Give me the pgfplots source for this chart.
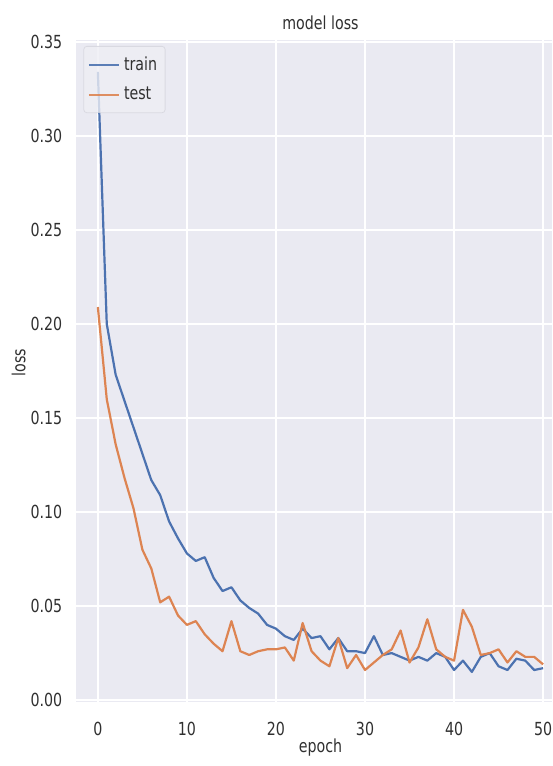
\documentclass[border=0pt]{standalone}
\usepackage{fontspec}
\setmainfont{DejaVu Sans}[FakeStretch=0.79]
\usepackage{pgfplots}
\pgfplotsset{compat=1.18}
\definecolor{bg}{HTML}{EAEAF2}
\definecolor{trainc}{HTML}{4C72B0}
\definecolor{testc}{HTML}{DD8452}
\definecolor{txt}{HTML}{303030}
\definecolor{legfill}{HTML}{EEEEF4}
\definecolor{legdraw}{HTML}{D8D8E0}

\pgfplotstableread{
epoch train test
0 0.334 0.209
1 0.200 0.160
2 0.173 0.136
3 0.159 0.118
4 0.145 0.102
5 0.131 0.080
6 0.117 0.070
7 0.109 0.052
8 0.095 0.055
9 0.086 0.045
10 0.078 0.040
11 0.074 0.042
12 0.076 0.035
13 0.065 0.030
14 0.058 0.026
15 0.060 0.042
16 0.053 0.026
17 0.049 0.024
18 0.046 0.026
19 0.040 0.027
20 0.038 0.027
21 0.034 0.028
22 0.032 0.021
23 0.038 0.041
24 0.033 0.026
25 0.034 0.021
26 0.027 0.018
27 0.033 0.033
28 0.026 0.017
29 0.026 0.024
30 0.025 0.016
31 0.034 0.020
32 0.024 0.024
33 0.025 0.027
34 0.023 0.037
35 0.021 0.020
36 0.023 0.028
37 0.021 0.043
38 0.025 0.027
39 0.023 0.023
40 0.016 0.021
41 0.021 0.048
42 0.015 0.039
43 0.023 0.024
44 0.025 0.025
45 0.018 0.027
46 0.016 0.020
47 0.022 0.026
48 0.021 0.023
49 0.016 0.023
50 0.017 0.019
}\lossdata

\begin{document}
\begin{tikzpicture}
\useasboundingbox (0,0) rectangle (276pt,383pt);
\begin{axis}[
  at={(37.8pt,32pt)}, anchor=south west,
  scale only axis, width=238.2pt, height=331pt,
  xmin=-2.5, xmax=51.0, ymin=-0.001, ymax=0.351,
  axis background/.style={fill=bg},
  axis line style={draw=none},
  major tick length=0pt, tick style={draw=none},
  grid=major, major grid style={white, line width=0.8pt},
  xtick={0,10,20,30,40,50},
  ytick={0,0.05,0.1,0.15,0.2,0.25,0.3,0.35},
  /pgf/number format/assume math mode=true,
  yticklabel style={/pgf/number format/.cd, fixed, fixed zerofill, precision=2, /tikz/.cd, anchor=east, inner sep=0pt, xshift=-6.5pt},
  xticklabel style={anchor=base, inner sep=0pt, yshift=-16.5pt},
  every tick label/.append style={font=\fontsize{9}{10.8}\selectfont, text=txt},
  title={model loss},
  title style={at={(axis description cs:0.514,1)}, anchor=base, inner sep=0pt, yshift=-1pt, font=\fontsize{9}{10.8}\selectfont, text=txt},
  xlabel={epoch},
  xlabel style={at={(axis description cs:0.514,0)}, anchor=base, inner sep=0pt, yshift=-25.5pt, font=\fontsize{9}{10.8}\selectfont, text=txt},
  ylabel={loss},
  ylabel style={at={(axis description cs:-0.1195,0.513)}, anchor=center, inner sep=0pt, font=\fontsize{9}{10.8}\selectfont, text=txt},
  legend cell align=left,
  legend style={at={(axis description cs:0,1)}, anchor=north west, xshift=3.9pt, yshift=-3pt,
    fill=legfill, draw=legdraw, fill opacity=0.8, draw opacity=0.9, text opacity=1,
    rounded corners=1.5pt, font=\fontsize{9}{10.8}\selectfont, text=txt,
    row sep=3pt, inner xsep=2pt, inner ysep=3pt},
  legend image code/.code={\draw[#1] (0pt,0pt) -- (15pt,0pt);},
]
\addplot[trainc, line width=1.1pt, line join=round] table[x=epoch, y=train] {\lossdata};
\addlegendentry{train}
\addplot[testc, line width=1.1pt, line join=round] table[x=epoch, y=test] {\lossdata};
\addlegendentry{test}
\end{axis}
\end{tikzpicture}
\end{document}
